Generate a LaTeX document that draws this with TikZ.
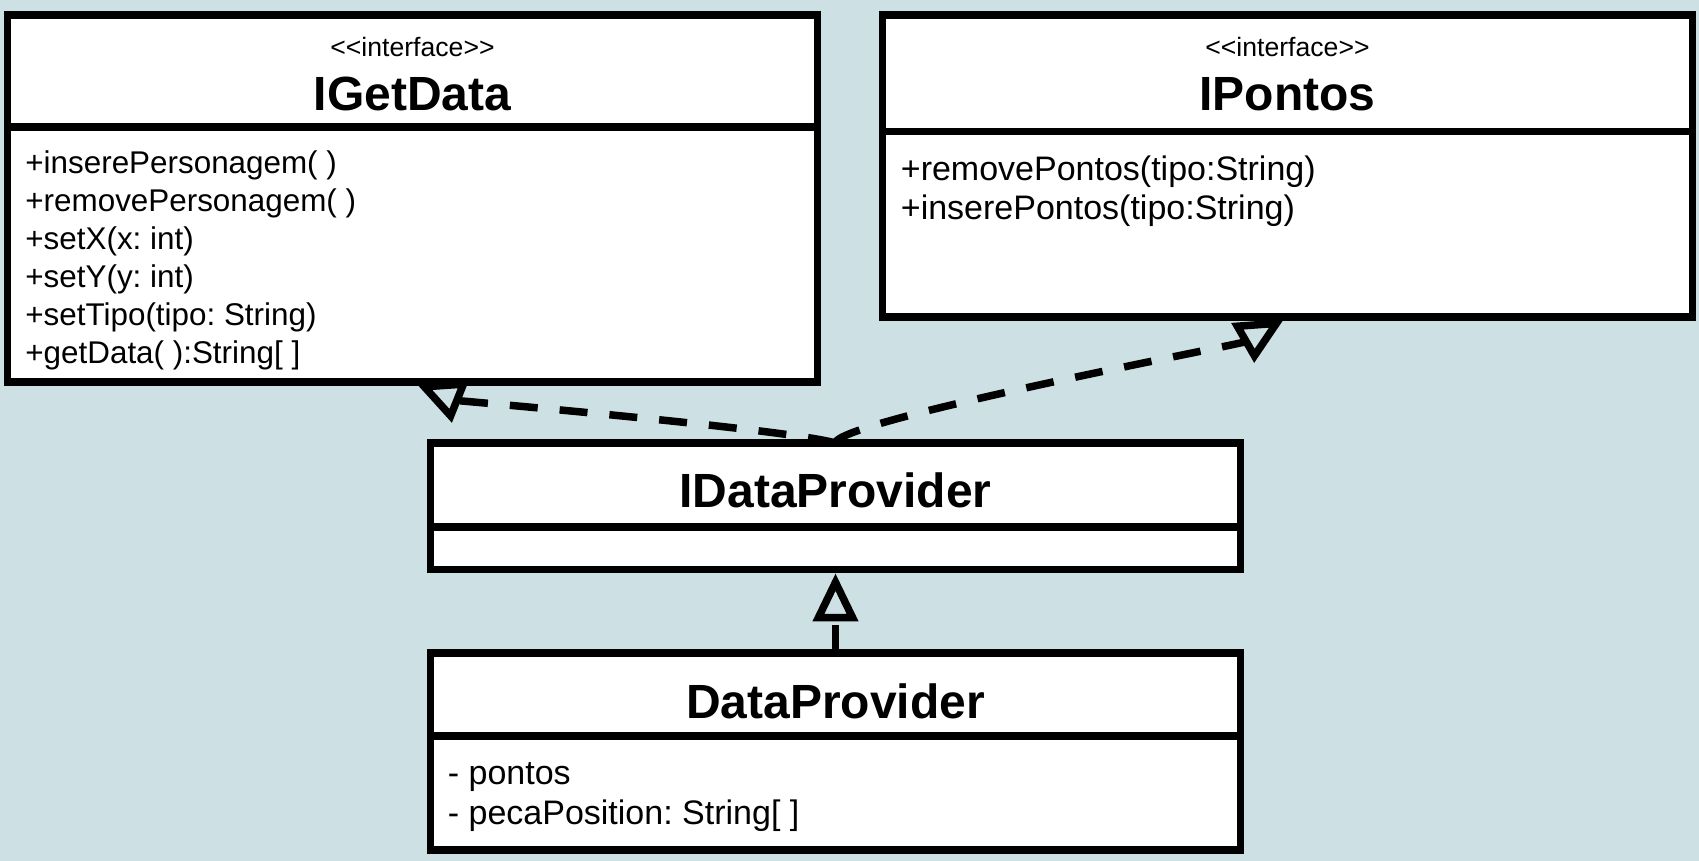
\documentclass[tikz,border=0pt]{standalone}
\usepackage{fontspec}
\setmainfont{Liberation Sans}
\usepackage{tikz}
\usetikzlibrary{positioning, arrows.meta, calc}
\definecolor{bgblue}{HTML}{CDE0E4}
\newcommand{\stereotype}[1]{<\kern0pt<#1>\kern0pt>}
\frenchspacing

\begin{document}
\begin{tikzpicture}[x=0.5pt, y=0.5pt,
                box/.style={draw=black, line width=3.75pt, fill=white, rectangle, outer sep=0pt, inner sep=0pt, minimum width=405pt},
                stereo/.style={font=\fontsize{13.3}{16}\selectfont, anchor=base, inner sep=0pt},
                cname/.style={font=\fontsize{24}{28}\selectfont\bfseries, anchor=base, inner sep=0pt},
                member/.style={font=\fontsize{15.7}{19}\selectfont, anchor=base west, inner sep=0pt},
                bigmember/.style={member, font=\fontsize{17}{20}\selectfont},
                realize/.style={line width=3.75pt, dash pattern=on 14pt off 11pt, shorten >=1.9pt, -{Triangle[open, length=24pt, width=22pt]}}
            ]

            % Hintergrund
            \fill[bgblue] (0,0) rectangle (1699,-861);
            \useasboundingbox (0,0) rectangle (1699,-861);

            % Klassen
            \node[box, minimum height=56pt, anchor=north west] (gd) at (7.5,-15) {};
            \node[box, minimum height=127.5pt, below=0pt of gd] (gdBody) {};
            \node[stereo] (gdStereo) at ([yshift=-21pt]gd.north) {\stereotype{interface}};
            \node[cname] (gdName) at ([yshift=-48pt]gd.north) {IGetData};
            \foreach \txt [count=\i] in {{+inserePersonagem( )}, {+removePersonagem( )}, {+setX(x: int)}, {+setY(y: int)}, {+setTipo(tipo: String)}, {+getData( ):String[ ]}}
                \node[member] (gdM\i) at ([xshift=8.75pt, yshift=-23.25pt-(\i-1)*19pt]gdBody.north west) {\txt};

            \node[box, minimum height=58.25pt, anchor=north west] (ip) at (882.5,-15) {};
            \node[box, minimum height=92.75pt, below=0pt of ip] (ipBody) {};
            \node[stereo] (ipStereo) at ([yshift=-21pt]ip.north) {\stereotype{interface}};
            \node[cname] (ipName) at ([yshift=-48pt]ip.north) {IPontos};
            \foreach \txt [count=\i] in {{+removePontos(tipo:String)}, {+inserePontos(tipo:String)}}
                \node[bigmember] (ipM\i) at ([xshift=9pt, yshift=-24.75pt-(\i-1)*19.5pt]ipBody.north west) {\txt};

            \node[box, minimum height=42pt, anchor=north west] (idp) at (430.5,-443) {};
            \node[box, minimum height=21.25pt, below=0pt of idp] (idpBody) {};
            \node[cname] (idpName) at ([yshift=-32.5pt]idp.north) {IDataProvider};

            \node[box, minimum height=41.5pt, anchor=north west] (dp) at (430.5,-653) {};
            \node[box, minimum height=57pt, below=0pt of dp] (dpBody) {};
            \node[cname] (dpName) at ([yshift=-32.5pt]dp.north) {DataProvider};
            \foreach \txt [count=\i] in {{- pontos}, {- pecaPosition: String[ ]}}
                \node[bigmember] (dpM\i) at ([xshift=8.5pt, yshift=-24.25pt-(\i-1)*20pt]dpBody.north west) {\txt};

            % Pfeile
            \draw[realize] (idp.north) to[out=164, in=-22, out looseness=0.3, in looseness=0.3] (gdBody.south);
            \draw[realize] (idp.north) to[out=90, in=-150, out looseness=0.12, in looseness=0.3] (ipBody.south);
            \draw[realize] (dp.north) -- (idpBody.south);

        \end{tikzpicture}
\end{document}
